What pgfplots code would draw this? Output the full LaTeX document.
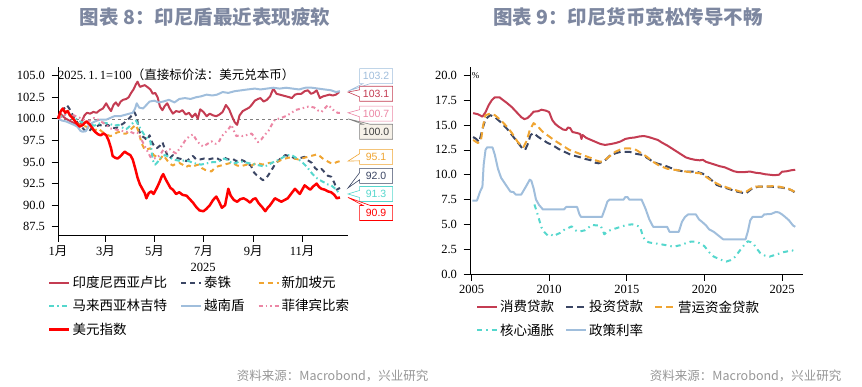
\documentclass[border=0pt]{standalone}
\usepackage{pgfplots}
\pgfplotsset{compat=1.18}
\usepackage{fontspec}
\setmainfont{Liberation Serif}
\newfontfamily\cjk{Noto Sans CJK SC}
\newfontfamily\numsans{Liberation Sans}
\usetikzlibrary{shapes.callouts}
\definecolor{idr}{RGB}{196,60,82}
\definecolor{thb}{RGB}{59,70,100}
\definecolor{sgd}{RGB}{240,165,50}
\definecolor{myr}{RGB}{85,215,205}
\definecolor{vnd}{RGB}{160,190,220}
\definecolor{php}{RGB}{236,135,165}
\definecolor{dxy}{RGB}{255,0,0}
\definecolor{titlecol}{RGB}{125,135,160}
\definecolor{footcol}{RGB}{150,150,150}
\definecolor{beige}{RGB}{246,241,232}
\tikzset{callbox/.style={rectangle callout, fill=white, line width=0.6pt, minimum width=33pt, minimum height=15pt, inner sep=0pt, font=\numsans\fontsize{10.5}{12}\selectfont}}
\begin{document}
\begin{tikzpicture}
\path[use as bounding box] (0pt,0pt) rectangle (862pt,386pt);
\coordinate (LA) at (58pt,151pt);
\coordinate (RA) at (470pt,112pt);
\node[font=\cjk\fontsize{19.5}{22}\selectfont\bfseries, text=titlecol] at (205pt,369pt) {图表 8：印尼盾最近表现疲软};
\node[font=\cjk\fontsize{19.5}{22}\selectfont\bfseries, text=titlecol] at (628pt,369pt) {图表 9：印尼货币宽松传导不畅};
\node[anchor=east, font=\cjk\fontsize{12.5}{14}\selectfont, text=footcol] at (432pt,10pt) {资料来源：Macrobond，兴业研究};
\node[anchor=east, font=\cjk\fontsize{12.5}{14}\selectfont, text=footcol] at (845pt,10pt) {资料来源：Macrobond，兴业研究};

\pgfplotsset{
  mystyle/.style={
    scale only axis, axis lines=left, axis line style={black, line width=0.8pt, -},
    tick align=outside, major tick length=6.5pt, tick style={black, line width=0.7pt},
    tick label style={font=\fontsize{12.5}{14}\selectfont},
    /pgf/number format/assume math mode=true,
    yticklabel style={/pgf/number format/fixed, /pgf/number format/fixed zerofill, /pgf/number format/precision=1, xshift=-3pt},
    clip=false,
    legend cell align=left,
    legend image code/.code={\draw[##1] (0pt,0pt) -- (20pt,0pt);},
  },
}

\begin{axis}[mystyle,
  at={(LA)}, anchor=south west, width=290pt, height=168pt,
  xmin=0, xmax=361, ymin=86.55, ymax=106.0,
  xtick={0,59,120,181,243,304},
  xticklabels={1{\cjk 月},3{\cjk 月},5{\cjk 月},7{\cjk 月},9{\cjk 月},11{\cjk 月}},
  xticklabel style={yshift=-1pt},
  ytick={87.5,90,...,105},
  xlabel={2025}, xlabel style={font=\fontsize{12.5}{14}\selectfont, yshift=1pt},
  legend columns=3,
  legend style={at={(axis description cs:-0.045,-0.22)}, anchor=north west, draw=none, fill=none,
    font=\cjk\fontsize{13.5}{15}\selectfont, row sep=6.5pt,
    /tikz/every even column/.append style={column sep=11pt}},
]
\addplot[gray, dashed, line width=0.6pt, forget plot] coordinates {(0,100) (361,100)};
% IDR
\addplot[idr, line width=2pt, line join=round] coordinates {
(0,100.0)(3,100.6)(6,100.3)(10,100.0)(14,99.8)(18,99.6)(22,99.4)(26,99.1)(29,99.6)(33,100.4)(36,100.7)(40,100.6)(44,100.8)(48,100.7)(52,101.0)(56,101.2)(60,101.8)(63,101.3)(66,100.9)(69,101.6)(72,101.9)(75,101.5)(78,102.0)(81,102.2)(85,102.3)(88,102.5)(91,103.0)(94,103.4)(97,104.0)(99,104.3)(102,103.7)(105,103.8)(108,103.9)(111,103.7)(115,103.4)(118,102.9)(121,103.0)(124,102.5)(127,101.4)(130,101.0)(133,101.5)(136,101.8)(139,101.2)(143,100.6)(147,100.9)(151,100.8)(155,101.0)(159,100.5)(163,100.7)(167,100.2)(171,100.6)(174,100.0)(177,101.1)(181,100.8)(185,100.3)(189,100.6)(193,100.4)(197,100.3)(201,100.5)(205,100.8)(209,101.6)(213,101.1)(217,100.2)(220,99.6)(223,99.3)(226,100.4)(230,100.9)(234,101.1)(238,101.3)(241,101.6)(245,102.1)(249,102.3)(252,102.4)(256,102.0)(260,102.2)(264,102.6)(268,103.5)(272,102.9)(276,102.8)(280,102.7)(284,102.6)(288,102.5)(291,102.4)(295,102.8)(299,102.9)(303,102.9)(307,103.2)(311,103.3)(315,102.9)(318,103.0)(322,103.3)(326,102.4)(330,102.6)(334,102.7)(338,102.8)(342,102.7)(346,102.8)(350,103.1)};
\addlegendentry{印度尼西亚卢比}
% THB
\addplot[thb, line width=2pt, line join=round, dash pattern=on 5pt off 4pt] coordinates {
(0,100.0)(3,100.9)(7,101.1)(11,101.6)(14,101.2)(18,100.5)(22,99.9)(26,99.3)(30,99.0)(34,98.6)(38,98.5)(42,98.9)(47,99.1)(52,99.3)(57,99.1)(62,99.3)(67,99.0)(72,98.9)(77,99.2)(82,99.5)(87,99.9)(92,100.4)(95,100.8)(98,100.2)(101,98.6)(104,98.0)(108,97.8)(111,97.5)(114,98.1)(117,97.3)(120,96.8)(123,96.6)(127,96.9)(130,97.3)(133,96.5)(136,95.8)(139,95.4)(143,95.8)(147,95.5)(151,95.4)(155,95.3)(160,95.1)(164,95.4)(168,95.7)(172,95.3)(177,95.3)(182,95.4)(187,95.3)(192,95.4)(197,95.5)(202,95.2)(207,95.5)(212,95.3)(217,95.4)(222,95.1)(227,95.3)(232,95.1)(236,94.8)(240,94.6)(244,93.8)(247,93.5)(251,93.2)(255,92.9)(258,93.0)(262,93.5)(266,94.1)(270,94.7)(274,95.1)(278,95.5)(283,95.8)(287,95.7)(291,95.6)(295,95.4)(299,95.4)(303,95.5)(307,95.6)(311,95.2)(316,94.9)(320,94.3)(324,94.0)(328,94.2)(332,93.8)(336,93.4)(340,93.3)(344,92.6)(347,91.8)(351,92.0)};
\addlegendentry{泰铢}
% SGD
\addplot[sgd, line width=2pt, line join=round, dash pattern=on 5pt off 4pt] coordinates {
(0,100.0)(4,100.4)(8,100.7)(12,100.9)(16,100.5)(20,99.8)(25,99.4)(30,99.2)(35,99.1)(40,98.9)(45,98.6)(50,98.9)(55,98.5)(60,98.2)(65,98.0)(69,98.1)(73,98.4)(77,98.5)(81,98.3)(85,98.3)(89,98.6)(93,99.0)(97,99.3)(100,98.6)(104,97.2)(108,96.4)(112,96.5)(115,96.6)(119,95.8)(123,95.6)(127,95.3)(131,95.8)(135,95.3)(139,94.8)(143,94.6)(147,94.8)(151,94.9)(155,94.7)(159,94.4)(163,94.6)(167,94.4)(171,94.6)(175,94.7)(179,94.3)(183,94.1)(187,94.0)(191,93.9)(195,94.3)(199,94.5)(203,94.6)(207,94.7)(211,94.8)(215,94.9)(219,94.8)(223,94.6)(227,94.5)(231,94.6)(235,94.7)(239,94.5)(243,94.7)(247,94.9)(251,94.8)(255,94.7)(259,94.8)(263,94.9)(267,94.9)(271,95.0)(275,95.1)(279,95.3)(283,95.4)(287,95.5)(291,95.5)(295,95.4)(299,95.3)(303,95.4)(307,95.5)(311,95.6)(315,95.7)(319,95.8)(323,95.9)(327,95.6)(331,95.3)(335,95.1)(339,94.9)(343,94.8)(347,95.0)(351,95.1)};
\addlegendentry{新加坡元}
% MYR
\addplot[myr, line width=2pt, line join=round, dash pattern=on 5pt off 3pt on 1.5pt off 3pt] coordinates {
(0,100.0)(5,100.3)(10,100.6)(15,100.4)(20,100.2)(25,99.8)(30,99.6)(35,99.5)(40,99.4)(45,99.2)(50,99.4)(55,99.6)(60,99.5)(65,99.4)(70,99.2)(75,99.3)(80,99.0)(85,98.8)(90,99.2)(94,99.6)(97,99.8)(100,99.3)(103,98.8)(107,98.2)(111,97.8)(115,97.4)(118,95.2)(121,94.7)(124,95.0)(128,95.5)(133,95.8)(138,95.6)(143,95.3)(148,95.2)(153,95.1)(158,95.2)(163,95.1)(168,94.9)(173,94.8)(178,94.7)(183,94.8)(188,94.9)(193,95.0)(198,95.0)(203,95.2)(207,95.4)(212,95.2)(217,94.8)(222,94.9)(226,95.1)(231,95.0)(236,94.9)(241,94.8)(246,94.7)(251,94.6)(256,94.5)(261,94.6)(266,94.9)(271,95.1)(276,95.3)(281,95.6)(286,95.8)(291,95.8)(296,95.5)(301,95.2)(306,94.8)(311,94.3)(316,93.7)(320,93.3)(324,93.0)(328,92.8)(332,92.6)(336,92.4)(340,92.3)(344,92.0)(348,91.6)(351,91.3)};
\addlegendentry{马来西亚林吉特}
% VND
\addplot[vnd, line width=2pt, line join=round] coordinates {
(0,100.0)(5,99.8)(10,99.7)(15,99.5)(20,99.3)(24,99.1)(28,98.6)(31,98.5)(35,98.6)(38,99.2)(42,99.5)(46,99.7)(52,99.9)(60,99.9)(65,100.1)(70,100.3)(77,100.3)(85,100.5)(93,100.7)(96,101.2)(98,101.8)(101,101.3)(106,101.2)(110,101.6)(114,102.0)(120,102.1)(125,101.9)(131,102.0)(138,102.2)(145,101.9)(151,102.3)(158,102.4)(165,102.3)(172,102.5)(178,102.6)(185,102.8)(192,102.7)(198,102.8)(205,103.1)(212,103.0)(220,103.2)(228,103.3)(236,103.4)(245,103.5)(252,103.4)(260,103.5)(268,103.6)(276,103.5)(284,103.6)(292,103.5)(300,103.4)(308,103.6)(316,103.6)(324,103.5)(332,103.4)(340,103.3)(346,103.1)(351,103.2)};
\addlegendentry{越南盾}
% PHP
\addplot[php, line width=2pt, line join=round, dash pattern=on 4pt off 3pt on 1.5pt off 3pt on 1.5pt off 3pt] coordinates {
(0,100.0)(5,100.3)(10,100.5)(15,100.6)(20,100.4)(25,100.2)(30,100.0)(35,99.7)(40,99.8)(45,100.1)(50,99.9)(55,99.6)(60,99.3)(65,98.9)(70,98.8)(75,98.7)(80,98.6)(85,98.5)(90,98.5)(95,98.3)(99,98.4)(103,97.8)(107,97.0)(111,96.3)(115,95.6)(119,95.4)(123,95.5)(127,95.8)(131,96.4)(135,96.2)(139,96.5)(143,96.2)(147,96.0)(151,96.5)(155,97.0)(159,97.6)(164,98.0)(168,98.2)(172,97.6)(177,97.0)(181,96.8)(186,97.1)(191,97.4)(196,97.1)(200,97.3)(204,98.0)(208,98.4)(212,98.8)(216,99.3)(219,98.6)(222,98.0)(226,98.1)(230,98.0)(234,98.1)(238,98.2)(241,98.3)(245,97.8)(249,97.3)(253,97.6)(257,98.1)(262,98.6)(266,99.3)(270,99.9)(274,100.0)(278,100.1)(283,100.3)(287,100.5)(291,100.7)(295,101.0)(299,101.1)(303,101.2)(307,101.3)(311,101.4)(315,101.4)(319,101.3)(323,101.0)(328,100.8)(332,101.2)(336,101.6)(340,101.3)(344,100.9)(348,100.7)(351,100.7)};
\addlegendentry{菲律宾比索}
% DXY
\addplot[dxy, line width=2.5pt, line join=round] coordinates {
(0,100.0)(3,100.8)(6,101.2)(9,100.7)(12,100.9)(15,100.4)(19,100.0)(23,99.5)(27,99.1)(31,99.3)(35,99.7)(39,99.4)(43,98.9)(46,98.5)(50,98.2)(53,98.1)(57,98.3)(60,98.1)(63,97.5)(66,96.6)(68,95.7)(71,95.5)(74,95.4)(77,95.6)(80,95.9)(83,96.2)(86,96.0)(90,95.8)(93,95.3)(96,94.3)(99,93.2)(102,92.4)(105,91.9)(108,91.4)(110,90.8)(113,91.4)(116,91.6)(119,91.3)(123,92.0)(126,92.6)(129,93.3)(131,93.6)(134,93.0)(137,92.5)(140,92.0)(143,91.8)(147,91.3)(151,91.5)(155,91.2)(160,91.1)(164,90.7)(168,90.3)(172,89.8)(176,89.4)(181,89.3)(185,89.6)(189,90.0)(193,90.6)(197,91.0)(200,90.5)(204,89.7)(208,90.0)(212,91.9)(215,91.1)(219,90.6)(223,90.4)(227,90.7)(231,90.8)(235,90.6)(239,90.3)(243,90.7)(246,90.8)(250,90.2)(254,89.8)(258,89.3)(261,89.7)(264,90.0)(267,90.4)(270,90.8)(274,90.6)(278,90.4)(282,90.6)(286,90.8)(290,91.3)(295,91.9)(298,91.6)(301,91.3)(304,91.8)(307,92.3)(311,92.0)(314,91.8)(318,92.2)(322,92.5)(325,92.1)(328,91.9)(332,91.8)(336,91.6)(340,91.5)(344,91.2)(347,90.8)(351,90.9)};
\addlegendentry{美元指数}
\node[anchor=west, inner sep=0pt, font=\fontsize{12.5}{14}\selectfont] at (axis cs:0,105.1) {2025.\,1.\,1=100{\cjk\fontsize{12.5}{14}\selectfont （直接标价法：美元兑本币）}};
\node[callbox, draw=vnd, text=vnd, callout absolute pointer={(axis cs:361,103.2)}] at (axis cs:396,104.95) {103.2};
\node[callbox, draw=idr, text=idr, callout absolute pointer={(axis cs:361,103.1)}] at (axis cs:396,102.9) {103.1};
\node[callbox, draw=php, text=php, callout absolute pointer={(axis cs:361,100.7)}] at (axis cs:396,100.6) {100.7};
\node[callbox, draw=gray, fill=beige, text=darkgray, callout absolute pointer={(axis cs:361,100.0)}] at (axis cs:396,98.5) {100.0};
\node[callbox, draw=sgd, text=sgd, callout absolute pointer={(axis cs:361,95.1)}] at (axis cs:396,95.6) {95.1};
\node[callbox, draw=thb, text=thb, callout absolute pointer={(axis cs:361,92.0)}] at (axis cs:396,93.4) {92.0};
\node[callbox, draw=myr, text=myr, callout absolute pointer={(axis cs:361,91.3)}] at (axis cs:396,91.3) {91.3};
\node[callbox, draw=dxy, text=dxy, callout absolute pointer={(axis cs:361,90.9)}] at (axis cs:396,89.1) {90.9};
\end{axis}

\begin{axis}[mystyle,
  at={(RA)}, anchor=south west, width=333pt, height=207pt,
  xmin=2004.9, xmax=2026.35, ymin=0, ymax=20.85,
  xtick={2005,2010,2015,2020,2025},
  xticklabel style={/pgf/number format/1000 sep={}, yshift=-1pt},
  ytick={0,2.5,...,20},
  legend columns=3,
  legend style={at={(axis description cs:0.009,-0.108)}, anchor=north west, draw=none, fill=none,
    font=\cjk\fontsize{13.5}{15}\selectfont, row sep=6.5pt,
    /tikz/every even column/.append style={column sep=9pt}},
]
\addplot[idr, line width=2pt, line join=round] coordinates {
(2005.1,16.2)(2005.4,16.1)(2005.7,15.85)(2005.9,16.3)(2006.1,17.0)(2006.3,17.5)(2006.5,17.8)(2006.8,17.8)(2007.0,17.55)(2007.3,17.2)(2007.6,16.8)(2007.9,16.3)(2008.2,15.8)(2008.4,15.6)(2008.6,15.7)(2008.8,16.0)(2009.0,16.35)(2009.3,16.4)(2009.5,16.55)(2009.8,16.45)(2010.0,16.3)(2010.2,15.5)(2010.4,15.1)(2010.6,14.85)(2010.9,14.55)(2011.1,14.5)(2011.2,14.75)(2011.35,14.7)(2011.5,14.3)(2011.8,14.2)(2012.0,14.1)(2012.08,13.6)(2012.15,14.0)(2012.4,13.7)(2012.7,13.5)(2013.0,13.3)(2013.3,13.1)(2013.6,13.0)(2014.0,13.1)(2014.3,13.2)(2014.6,13.35)(2014.9,13.6)(2015.2,13.7)(2015.5,13.75)(2015.8,13.85)(2016.1,13.9)(2016.4,13.8)(2016.7,13.65)(2017.0,13.5)(2017.3,13.2)(2017.6,12.95)(2017.9,12.65)(2018.2,12.35)(2018.5,12.05)(2018.8,11.75)(2019.1,11.6)(2019.4,11.5)(2019.7,11.45)(2019.9,11.5)(2020.1,11.3)(2020.4,11.15)(2020.7,11.0)(2021.0,10.85)(2021.3,10.75)(2021.6,10.55)(2021.9,10.35)(2022.2,10.25)(2022.5,10.25)(2022.8,10.3)(2023.0,10.3)(2023.3,10.2)(2023.6,10.15)(2023.9,10.05)(2024.2,10.0)(2024.5,9.95)(2024.8,10.0)(2025.0,10.3)(2025.3,10.35)(2025.6,10.45)(2025.85,10.5)};
\addlegendentry{消费贷款}
\addplot[thb, line width=2pt, line join=round, dash pattern=on 7pt off 4pt] coordinates {
(2005.1,13.8)(2005.3,13.6)(2005.5,13.3)(2005.7,14.6)(2005.9,15.6)(2006.2,16.0)(2006.5,15.8)(2006.8,15.4)(2007.0,15.1)(2007.3,14.6)(2007.6,14.0)(2007.9,13.4)(2008.1,13.0)(2008.3,12.6)(2008.45,12.5)(2008.6,13.0)(2008.8,14.0)(2009.0,14.2)(2009.3,13.8)(2009.6,13.5)(2009.9,13.2)(2010.2,13.0)(2010.6,12.6)(2011.0,12.3)(2011.4,12.0)(2011.9,11.8)(2012.3,11.6)(2012.7,11.45)(2013.0,11.2)(2013.2,11.15)(2013.6,11.45)(2013.9,11.9)(2014.25,12.15)(2014.6,12.3)(2014.9,12.3)(2015.2,12.3)(2015.6,12.1)(2016.0,12.0)(2016.4,11.6)(2016.7,11.3)(2017.0,11.1)(2017.4,10.95)(2017.8,10.7)(2018.2,10.47)(2018.6,10.35)(2018.9,10.3)(2019.3,10.3)(2019.6,10.25)(2019.9,10.1)(2020.2,9.8)(2020.5,9.4)(2020.8,8.96)(2021.1,8.8)(2021.45,8.63)(2021.8,8.45)(2022.1,8.3)(2022.4,8.2)(2022.65,8.1)(2022.9,8.4)(2023.1,8.65)(2023.5,8.8)(2023.9,8.8)(2024.3,8.8)(2024.7,8.75)(2025.0,8.7)(2025.3,8.6)(2025.6,8.45)(2025.8,8.25)};
\addlegendentry{投资贷款}
\addplot[sgd, line width=2pt, line join=round, dash pattern=on 7pt off 4pt] coordinates {
(2005.1,13.5)(2005.4,13.2)(2005.6,13.4)(2005.75,15.0)(2005.9,16.0)(2006.2,16.15)(2006.5,16.0)(2006.8,15.6)(2007.0,15.3)(2007.3,14.8)(2007.6,14.2)(2007.95,13.35)(2008.15,13.0)(2008.35,12.8)(2008.55,13.4)(2008.75,14.5)(2009.0,15.2)(2009.3,14.8)(2009.6,14.3)(2010.0,13.85)(2010.3,13.5)(2010.65,13.15)(2011.0,12.8)(2011.3,12.5)(2011.9,12.15)(2012.3,11.9)(2012.75,11.65)(2013.0,11.45)(2013.3,11.3)(2013.6,11.5)(2013.85,11.8)(2014.25,12.3)(2014.6,12.55)(2014.9,12.65)(2015.2,12.65)(2015.6,12.5)(2016.0,12.1)(2016.3,11.8)(2016.7,11.3)(2017.0,11.0)(2017.3,10.8)(2017.6,10.6)(2018.2,10.47)(2018.9,10.3)(2019.3,10.2)(2019.7,10.15)(2020.0,9.9)(2020.4,9.47)(2020.7,9.2)(2021.0,8.96)(2021.3,8.8)(2021.6,8.63)(2022.0,8.45)(2022.3,8.3)(2022.7,8.3)(2023.0,8.6)(2023.3,8.8)(2023.9,8.8)(2024.4,8.85)(2024.8,8.8)(2025.1,8.7)(2025.4,8.6)(2025.8,8.3)};
\addlegendentry{营运资金贷款}
\addplot[myr, line width=2pt, line join=round, dash pattern=on 5pt off 4pt on 1.5pt off 4pt] coordinates {
(2009.05,7.0)(2009.2,6.3)(2009.35,5.5)(2009.5,4.7)(2009.7,4.2)(2009.9,3.9)(2010.1,4.0)(2010.3,3.8)(2010.5,4.0)(2010.8,4.2)(2011.0,4.5)(2011.2,4.6)(2011.45,4.8)(2011.6,4.5)(2011.8,4.3)(2012.0,4.3)(2012.3,4.4)(2012.55,4.7)(2012.75,4.95)(2013.0,4.9)(2013.3,4.9)(2013.45,4.4)(2013.55,4.0)(2013.75,4.3)(2014.0,4.45)(2014.3,4.6)(2014.7,4.8)(2015.0,4.95)(2015.35,5.0)(2015.6,4.9)(2015.85,4.75)(2016.0,4.0)(2016.15,3.45)(2016.4,3.2)(2016.7,3.1)(2017.0,3.05)(2017.36,2.95)(2017.7,2.85)(2018.0,2.75)(2018.45,2.9)(2018.8,3.1)(2019.1,3.25)(2019.5,3.25)(2019.75,3.05)(2020.0,2.8)(2020.3,2.2)(2020.6,1.75)(2020.9,1.55)(2021.2,1.35)(2021.4,1.25)(2021.7,1.4)(2022.0,1.75)(2022.2,2.2)(2022.4,2.6)(2022.6,3.0)(2022.8,3.3)(2023.0,3.2)(2023.2,2.95)(2023.4,2.5)(2023.6,2.1)(2023.9,1.85)(2024.2,1.75)(2024.5,1.9)(2024.8,2.05)(2025.1,2.2)(2025.4,2.3)(2025.6,2.4)(2025.8,2.3)};
\addlegendentry{核心通胀}
\addplot[vnd, line width=2pt, line join=round] coordinates {
(2005.05,7.4)(2005.35,7.4)(2005.55,8.3)(2005.7,8.8)(2005.78,11.0)(2005.9,12.5)(2006.0,12.75)(2006.35,12.75)(2006.5,12.0)(2006.7,10.6)(2006.9,9.7)(2007.2,9.0)(2007.5,8.3)(2007.7,8.25)(2007.85,8.0)(2008.2,8.0)(2008.5,8.8)(2008.75,9.5)(2008.85,9.4)(2009.0,8.6)(2009.15,7.5)(2009.35,6.95)(2009.6,6.5)(2010.95,6.5)(2011.1,6.75)(2011.8,6.75)(2011.95,6.0)(2012.05,5.75)(2013.4,5.75)(2013.6,6.6)(2013.75,7.3)(2013.9,7.5)(2014.8,7.5)(2014.9,7.75)(2015.05,7.75)(2015.15,7.5)(2015.95,7.5)(2016.2,6.6)(2016.45,5.5)(2016.7,4.75)(2017.6,4.75)(2017.75,4.25)(2018.35,4.25)(2018.55,5.25)(2018.75,5.75)(2018.95,6.0)(2019.45,6.0)(2019.65,5.5)(2019.85,5.25)(2020.1,4.9)(2020.3,4.5)(2020.6,4.25)(2020.8,4.0)(2021.0,3.75)(2021.2,3.5)(2022.65,3.5)(2022.8,4.3)(2022.95,5.4)(2023.1,5.75)(2023.7,5.75)(2023.85,6.0)(2024.3,6.05)(2024.6,6.25)(2024.8,6.2)(2025.0,6.0)(2025.2,5.75)(2025.45,5.4)(2025.7,4.9)(2025.85,4.75)};
\addlegendentry{政策利率}
\node[anchor=west, inner sep=1pt, font=\fontsize{9}{10}\selectfont] at (axis cs:2004.95,20.0) {\%};
\end{axis}
\end{tikzpicture}
\end{document}
